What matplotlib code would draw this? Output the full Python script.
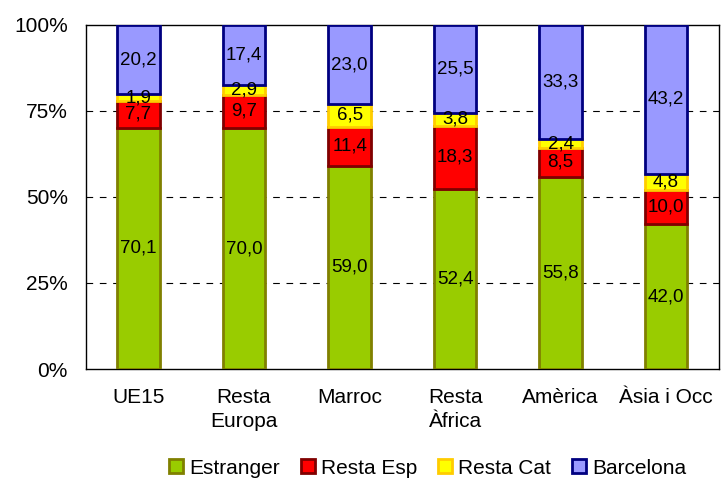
import matplotlib.pyplot as plt
import numpy as np

plt.rcParams['font.family'] = ['Liberation Sans', 'DejaVu Sans']

categories = ['UE15', 'Resta\nEuropa', 'Marroc', 'Resta\nÀfrica', 'Amèrica', 'Àsia i Occ']
estranger = [70.1, 70.0, 59.0, 52.4, 55.8, 42.0]
resta_esp = [7.7, 9.7, 11.4, 18.3, 8.5, 10.0]
resta_cat = [1.9, 2.9, 6.5, 3.8, 2.4, 4.8]
barcelona = [20.2, 17.4, 23.0, 25.5, 33.3, 43.2]

series = [
    ('Estranger', estranger, '#99CC00', '#808000'),
    ('Resta Esp', resta_esp, '#FF0000', '#800000'),
    ('Resta Cat', resta_cat, '#FFFF00', '#FFCC00'),
    ('Barcelona', barcelona, '#9999FF', '#000080'),
]

vals = np.array([s[1] for s in series])
totals = vals.sum(axis=0)
pct = vals / totals * 100

fig = plt.figure(figsize=(7.21, 4.79), dpi=100)
ax = fig.add_axes([0.119, 0.2296, 0.878, 0.7184])

x = np.arange(len(categories))
bottom = np.zeros(len(categories))
for (name, raw, fc, ec), p in zip(series, pct):
    ax.bar(x, p, 0.4, bottom=bottom, color=fc, edgecolor=ec, linewidth=2,
           label=name, zorder=3)
    for xi, b, h, r in zip(x, bottom, p, raw):
        ax.text(xi, b + h / 2, f'{r:.1f}'.replace('.', ','), ha='center',
                va='center', fontsize=13.5, zorder=4)
    bottom += p

ax.set_xlim(-0.5, len(categories) - 0.5)
ax.set_ylim(0, 100)
ax.set_yticks([0, 25, 50, 75, 100])
ax.set_yticklabels(['0%', '25%', '50%', '75%', '100%'], fontsize=15)
ax.set_xticks(x)
ax.set_xticklabels(categories, fontsize=15, linespacing=1.3)
ax.tick_params(axis='y', length=0, pad=13)
ax.tick_params(axis='x', length=0, pad=14)
for y in [25, 50, 75]:
    ax.axhline(y, color='black', linestyle=(0, (6, 6)), linewidth=0.8, zorder=1)
for s in ax.spines.values():
    s.set_linewidth(1.0)

fig.legend(loc='lower center', bbox_to_anchor=(0.593, 0.003), ncol=4, frameon=False,
           fontsize=15, handlelength=0.67, handleheight=0.67, handletextpad=0.3,
           columnspacing=1.0, borderpad=0, borderaxespad=0)

fig.savefig('out.png', dpi=100)
